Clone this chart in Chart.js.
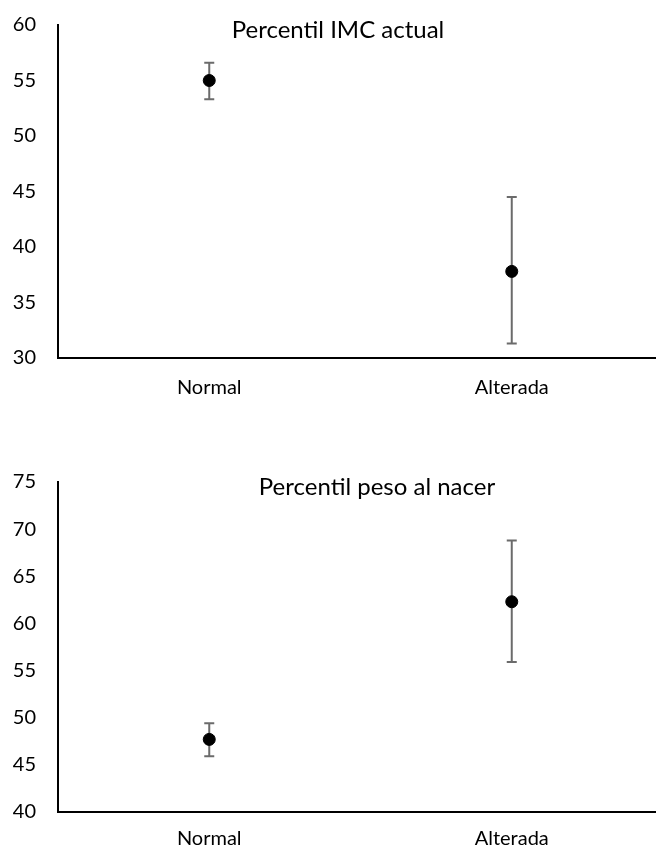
<!DOCTYPE html>
<html>
<head>
<meta charset="utf-8">
<script src="https://cdn.jsdelivr.net/npm/chart.js@4.4.1/dist/chart.umd.min.js"></script>
<style>
    html, body { margin: 0; padding: 0; background: #fff; overflow: hidden; }
    .box { position: absolute; left: 0; width: 670px; }
    #box1 { top: 0; height: 400px; }
    #box2 { top: 440px; height: 410px; }
</style>
</head>
<body>
<div class="box" id="box1"><canvas id="imcChart"></canvas></div>
<div class="box" id="box2"><canvas id="pesoChart"></canvas></div>
<script>
// Data
const categories = ['Normal', 'Alterada'];

const imcMean = [55.0, 37.8];
const imcLow = [53.3, 31.3];
const imcHigh = [56.6, 44.5];
const imcTicks = [30, 35, 40, 45, 50, 55, 60];

const pesoMean = [47.7, 62.3];
const pesoLow = [45.9, 55.9];
const pesoHigh = [49.4, 68.8];
const pesoTicks = [40, 45, 50, 55, 60, 65, 70, 75];

const FONT = 'Lato, "Open Sans", sans-serif';

// Error bars drawn through the y scale, behind the points
const errorBars = {
    id: 'errorBars',
    beforeDatasetsDraw(chart) {
        const ctx = chart.ctx;
        const y = chart.scales.y;
        chart.data.datasets.forEach((ds, di) => {
            const meta = chart.getDatasetMeta(di);
            meta.data.forEach((pt, i) => {
                const top = y.getPixelForValue(ds.high[i]);
                const bot = y.getPixelForValue(ds.low[i]);
                ctx.save();
                ctx.strokeStyle = '#6b6b6b';
                ctx.lineWidth = 2;
                ctx.beginPath();
                ctx.moveTo(pt.x, top);
                ctx.lineTo(pt.x, bot);
                ctx.moveTo(pt.x - 5, top);
                ctx.lineTo(pt.x + 5, top);
                ctx.moveTo(pt.x - 5, bot);
                ctx.lineTo(pt.x + 5, bot);
                ctx.stroke();
                ctx.restore();
            });
        });
    }
};

// Title drawn over the plot area, like the original
const overlayTitle = {
    id: 'overlayTitle',
    afterDraw(chart, args, opts) {
        const ctx = chart.ctx;
        ctx.save();
        ctx.font = '24px ' + FONT;
        ctx.fillStyle = '#000';
        ctx.textAlign = 'center';
        ctx.textBaseline = 'middle';
        ctx.fillText(opts.text, opts.x, chart.chartArea.top + opts.dy);
        ctx.restore();
    }
};

function makeChart(id, mean, low, high, ticks, title, titleX, padTop, xHeight, xPad) {
    return new Chart(document.getElementById(id), {
        type: 'line',
        data: {
            labels: categories,
            datasets: [{
                data: mean,
                low: low,
                high: high,
                showLine: false,
                pointRadius: 6,
                pointHoverRadius: 6,
                pointBackgroundColor: '#000',
                pointBorderColor: '#000'
            }]
        },
        options: {
            responsive: true,
            maintainAspectRatio: false,
            animation: false,
            layout: { padding: { top: padTop, left: 0, right: 4, bottom: 0 } },
            scales: {
                x: {
                    type: 'category',
                    offset: true,
                    grid: { display: false, drawTicks: false },
                    border: { color: '#000', width: 2 },
                    ticks: { color: '#000', font: { family: FONT, size: 20 }, padding: xPad },
                    afterFit(scale) { scale.height = xHeight; }
                },
                y: {
                    min: ticks[0],
                    max: ticks[ticks.length - 1],
                    grid: { display: false, drawTicks: false },
                    border: { color: '#000', width: 2 },
                    afterBuildTicks(scale) { scale.ticks = ticks.map(v => ({ value: v })); },
                    ticks: { color: '#000', font: { family: FONT, size: 20 }, padding: 22 },
                    afterFit(scale) {
                        scale.width = 58;
                        scale.paddingTop = 0;
                    }
                }
            },
            plugins: {
                legend: { display: false },
                tooltip: { enabled: false },
                overlayTitle: { text: title, x: titleX, dy: 5 }
            }
        },
        plugins: [errorBars, overlayTitle]
    });
}

makeChart('imcChart', imcMean, imcLow, imcHigh, imcTicks, 'Percentil IMC actual', 338, 25, 42, 18);
makeChart('pesoChart', pesoMean, pesoLow, pesoHigh, pesoTicks, 'Percentil peso al nacer', 377, 42, 38, 15);
</script>
</body>
</html>
